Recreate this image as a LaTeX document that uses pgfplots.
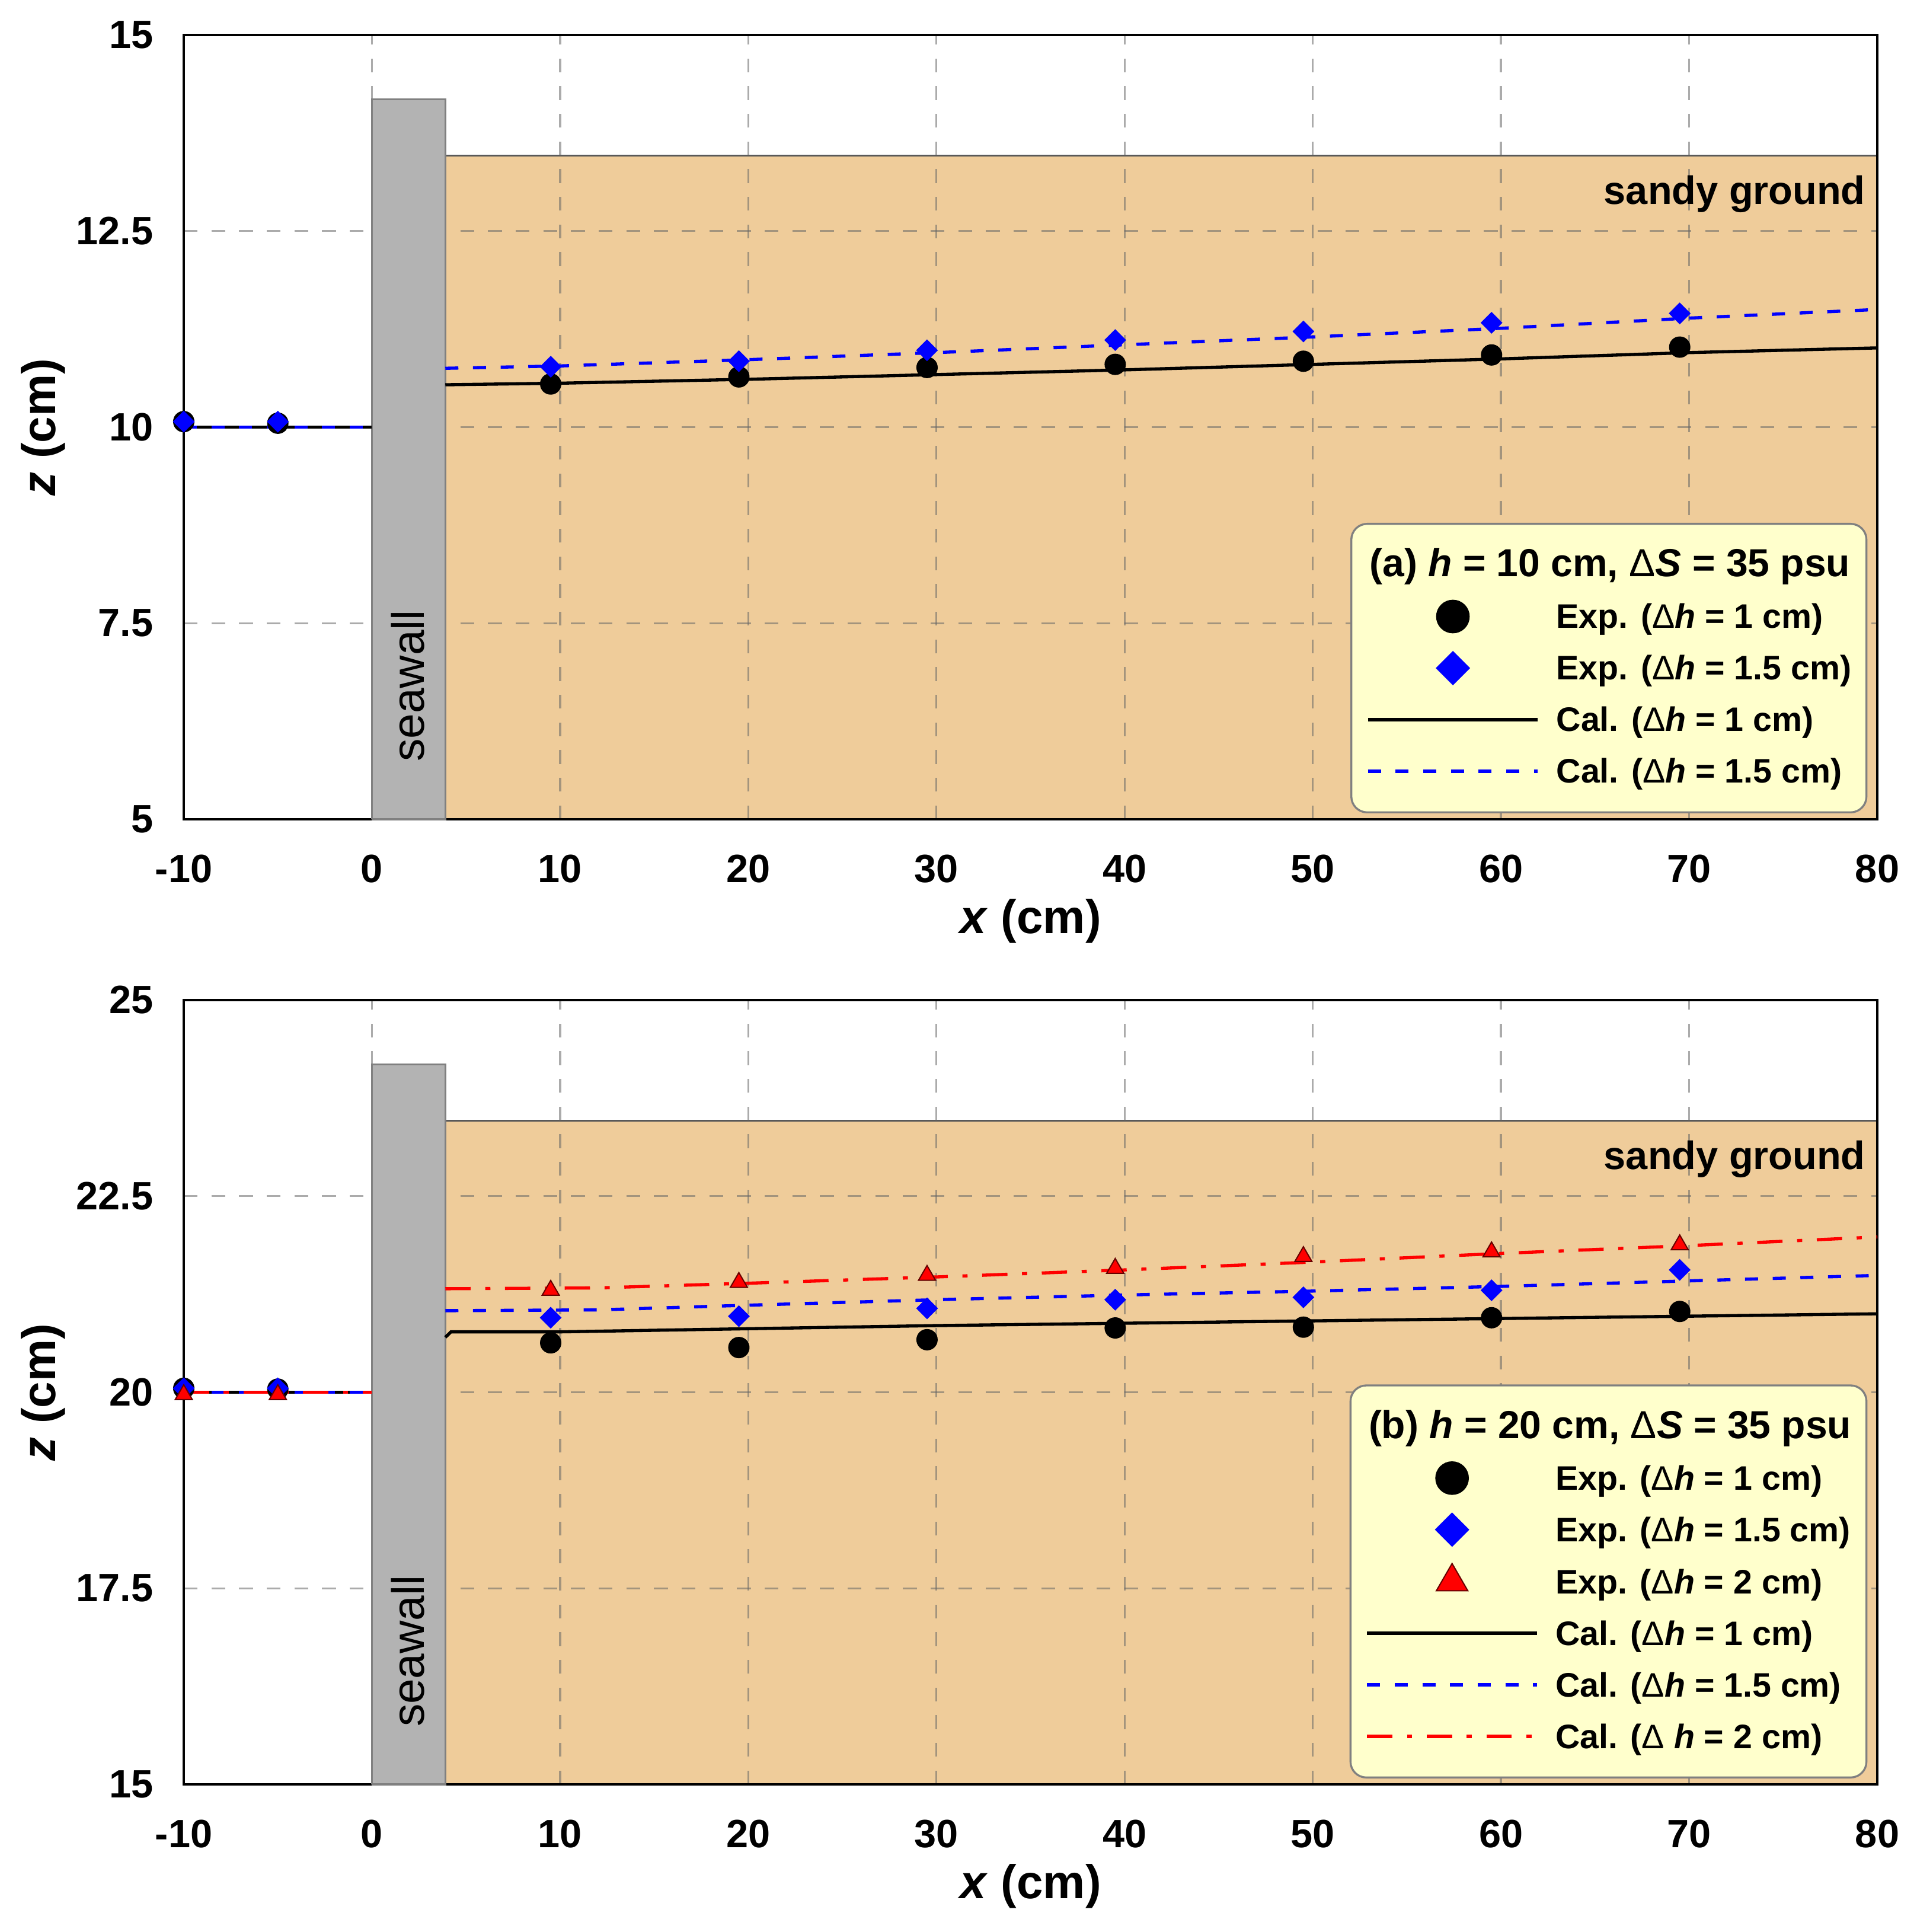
\documentclass[border=0pt]{standalone}
\usepackage{fontspec}
\setmainfont{Liberation Sans}
\usepackage{pgfplots}
\pgfplotsset{compat=1.18}
\definecolor{sand}{RGB}{239,204,154}
\definecolor{wallgray}{RGB}{179,179,179}
\definecolor{legfill}{RGB}{255,255,204}
\pgfplotsset{
  legmark/.style={legend image code/.code={\path[draw=none,fill=none] (0pt,0pt) -- (43pt,0pt); \draw[##1] plot coordinates {(21.5pt,0pt)};}},
  legline/.style={legend image code/.code={\draw[##1] (0pt,0pt) -- (43pt,0pt);}},
  calone/.style={black, solid, line width=0.8pt},
  calonefive/.style={blue, line width=0.8pt, dash pattern=on 3.3pt off 3.7pt},
  caltwo/.style={red, line width=0.8pt, dash pattern=on 6.4pt off 3.7pt on 1.3pt off 3.7pt},
  expone/.style={only marks, mark=*, mark size=2.5pt, mark options={solid, fill=black, draw=black}},
  exponefive/.style={only marks, mark=square*, mark size=1.75pt, mark options={solid, rotate=45, fill=blue, draw=blue}},
  exptwo/.style={only marks, mark=triangle*, mark size=2.5pt, mark options={solid, fill=red, draw=red!40!black, line width=0.3pt}},
  myaxis/.style={
    set layers,
    scale only axis,
    width=428.55pt, height=198.45pt,
    xmin=-10, xmax=80,
    xtick={-10,0,10,20,30,40,50,60,70,80},
    xticklabels={-10,0,10,20,30,40,50,60,70,80},
    major tick length=0pt,
    grid=major,
    major grid style={black!60, draw opacity=0.55, line width=0.5pt, dash pattern=on 3.5pt off 3.5pt},
    axis line style={line width=0.7pt},
    tick label style={font=\fontsize{10}{12}\selectfont\bfseries},
    xticklabel style={yshift=-5.4pt},
    yticklabel style={xshift=-4.2pt},
    label style={font=\fontsize{12}{14}\selectfont\bfseries},
    xlabel={\textit{x} (cm)},
    ylabel={\textit{z} (cm)},
    xlabel style={at={(axis description cs:0.5,0)}, anchor=center, yshift=-25.7pt},
    ylabel style={at={(axis description cs:0,0.5)}, anchor=center, yshift=35.6pt},
    clip=false,
    legend cell align=left,
    legend style={at={(1,0)}, anchor=south east, xshift=-2.5pt, yshift=1.5pt,
      fill=legfill, draw=black!50, line width=0.5pt, rounded corners=4pt,
      inner xsep=3.8pt, inner ysep=5.9pt, row sep=4.05pt, column sep=4.3pt,
      nodes={inner sep=0pt, text height=7.5pt, text depth=1.5pt, anchor=west,
        font=\fontsize{8.6}{10}\selectfont\bfseries}},
  }
}
\begin{document}
\begin{tikzpicture}
% ---------------- panel (a)
\begin{axis}[myaxis, at={(0pt,0pt)}, anchor=north west,
  ymin=5, ymax=15, ytick={5,7.5,10,12.5,15}, yticklabels={5,7.5,10,12.5,15}]
\addlegendimage{empty legend}
\addlegendentry{\hspace*{-47.3pt}{\fontsize{9.9}{11}\selectfont (a) \textit{h} = 10 cm, {\mdseries Δ}\textit{S} = 35 psu}}
\addlegendimage{legmark, only marks, mark=*, mark size=4pt, mark options={fill=black, draw=black}}
\addlegendentry{Exp. ({\mdseries Δ}\textit{h} = 1 cm)}
\addlegendimage{legmark, only marks, mark=square*, mark size=2.83pt, mark options={rotate=45, fill=blue, draw=blue}}
\addlegendentry{Exp. ({\mdseries Δ}\textit{h} = 1.5 cm)}
\addlegendimage{legline, calone}
\addlegendentry{Cal. ({\mdseries Δ}\textit{h} = 1 cm)}
\addlegendimage{legline, calonefive}
\addlegendentry{Cal. ({\mdseries Δ}\textit{h} = 1.5 cm)}
% sandy ground
\addplot[forget plot, on layer=axis background, fill=sand, draw=none]
  coordinates {(3.9,5) (3.9,13.46) (80,13.46) (80,5) (3.9,5)};
\addplot[forget plot, on layer=axis background, black!65, line width=0.5pt]
  coordinates {(3.9,13.46) (80,13.46)};
% seawall
\addplot[forget plot, fill=wallgray, draw=black!50, line width=0.5pt]
  coordinates {(0,5) (0,14.18) (3.9,14.18) (3.9,5) (0,5)};
% calculated
\addplot[forget plot, calone] coordinates {(-10,10) (0,10)};
\addplot[forget plot, calone] coordinates {(3.9,10.54) (10,10.56) (20,10.61) (30,10.67) (40,10.73) (50,10.80) (60,10.87) (70,10.95) (80,11.01)};
\addplot[forget plot, calonefive] coordinates {(-10,10) (0,10)};
\addplot[forget plot, calonefive] coordinates {(3.9,10.75) (10,10.78) (20,10.86) (30,10.95) (40,11.05) (50,11.15) (60,11.26) (70,11.39) (80,11.50)};
% experiments
\addplot[forget plot, expone] coordinates {(-10,10.07) (-5,10.05) (9.5,10.55) (19.5,10.64) (29.5,10.76) (39.5,10.80) (49.5,10.84) (59.5,10.92) (69.5,11.02)};
\addplot[forget plot, exponefive] coordinates {(-10,10.07) (-5,10.07) (9.5,10.77) (19.5,10.84) (29.5,10.98) (39.5,11.11) (49.5,11.22) (59.5,11.33) (69.5,11.45)};
\node[anchor=base east, inner sep=0pt, font=\fontsize{10}{12}\selectfont\bfseries] at (axis cs:79.4,12.84) {sandy ground};
\node[rotate=90, font=\fontsize{11.5}{13}\selectfont] at (axis cs:1.92,6.7) {seawall};
\end{axis}
% ---------------- panel (b)
\begin{axis}[myaxis, at={(0pt,-244.2pt)}, anchor=north west,
  ymin=15, ymax=25, ytick={15,17.5,20,22.5,25}, yticklabels={15,17.5,20,22.5,25}]
\addlegendimage{empty legend}
\addlegendentry{\hspace*{-47.3pt}{\fontsize{9.9}{11}\selectfont (b) \textit{h} = 20 cm, {\mdseries Δ}\textit{S} = 35 psu}}
\addlegendimage{legmark, only marks, mark=*, mark size=4pt, mark options={fill=black, draw=black}}
\addlegendentry{Exp. ({\mdseries Δ}\textit{h} = 1 cm)}
\addlegendimage{legmark, only marks, mark=square*, mark size=2.83pt, mark options={rotate=45, fill=blue, draw=blue}}
\addlegendentry{Exp. ({\mdseries Δ}\textit{h} = 1.5 cm)}
\addlegendimage{legmark, only marks, mark=triangle*, mark size=4.6pt, mark options={fill=red, draw=red!40!black, line width=0.3pt}}
\addlegendentry{Exp. ({\mdseries Δ}\textit{h} = 2 cm)}
\addlegendimage{legline, calone}
\addlegendentry{Cal. ({\mdseries Δ}\textit{h} = 1 cm)}
\addlegendimage{legline, calonefive}
\addlegendentry{Cal. ({\mdseries Δ}\textit{h} = 1.5 cm)}
\addlegendimage{legline, caltwo}
\addlegendentry{Cal. ({\mdseries Δ} \textit{h} = 2 cm)}
% sandy ground
\addplot[forget plot, on layer=axis background, fill=sand, draw=none]
  coordinates {(3.9,15) (3.9,23.46) (80,23.46) (80,15) (3.9,15)};
\addplot[forget plot, on layer=axis background, black!65, line width=0.5pt]
  coordinates {(3.9,23.46) (80,23.46)};
% seawall
\addplot[forget plot, fill=wallgray, draw=black!50, line width=0.5pt]
  coordinates {(0,15) (0,24.18) (3.9,24.18) (3.9,15) (0,15)};
% calculated
\addplot[forget plot, calone] coordinates {(-10,20) (0,20)};
\addplot[forget plot, calone] coordinates {(3.9,20.70) (4.2,20.77) (10,20.77) (20,20.81) (30,20.85) (40,20.88) (50,20.91) (60,20.94) (70,20.97) (80,21.00)};
\addplot[forget plot, calonefive] coordinates {(-10,20) (0,20)};
\addplot[forget plot, calonefive] coordinates {(3.9,21.04) (12,21.05) (20,21.11) (30,21.18) (40,21.24) (50,21.29) (60,21.35) (70,21.42) (80,21.49)};
\addplot[forget plot, caltwo] coordinates {(-10,20) (0,20)};
\addplot[forget plot, caltwo] coordinates {(3.9,21.32) (12,21.33) (20,21.39) (30,21.47) (40,21.56) (50,21.66) (60,21.77) (70,21.87) (80,21.98)};
% experiments
\addplot[forget plot, expone] coordinates {(-10,20.05) (-5,20.04) (9.5,20.63) (19.5,20.57) (29.5,20.67) (39.5,20.82) (49.5,20.83) (59.5,20.95) (69.5,21.03)};
\addplot[forget plot, exponefive] coordinates {(-10,20.05) (-5,20.05) (9.5,20.95) (19.5,20.97) (29.5,21.07) (39.5,21.18) (49.5,21.21) (59.5,21.30) (69.5,21.56)};
\addplot[forget plot, exptwo] coordinates {(-10,19.97) (-5,19.97) (9.5,21.30) (19.5,21.40) (29.5,21.49) (39.5,21.58) (49.5,21.73) (59.5,21.79) (69.5,21.88)};
\node[anchor=base east, inner sep=0pt, font=\fontsize{10}{12}\selectfont\bfseries] at (axis cs:79.4,22.84) {sandy ground};
\node[rotate=90, font=\fontsize{11.5}{13}\selectfont] at (axis cs:1.92,16.7) {seawall};
\end{axis}
\pgfresetboundingbox
\path[use as bounding box] (-46.5pt,8.85pt) rectangle (438.45pt,-480pt);
\end{tikzpicture}
\end{document}
